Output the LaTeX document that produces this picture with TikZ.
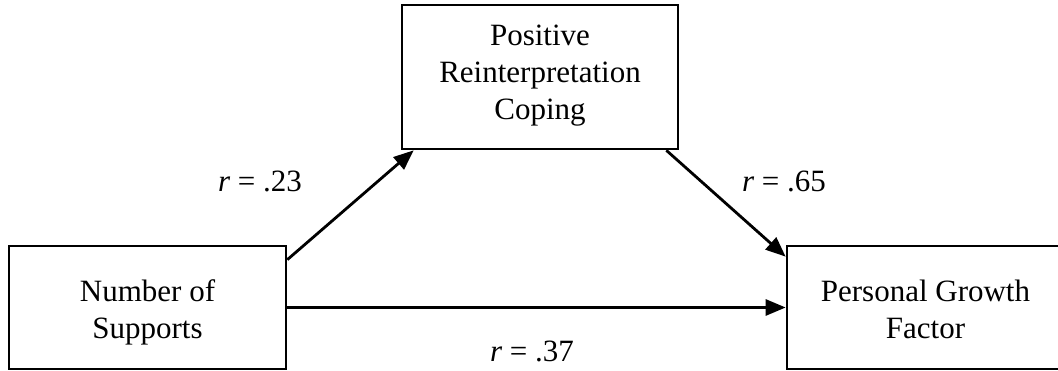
\documentclass[tikz,border=0pt]{standalone}
\usepackage{fontspec}
\setmainfont{Liberation Serif}
\usetikzlibrary{arrows.meta}
\begin{document}
\begin{tikzpicture}[x=1pt,y=-1pt,
  box/.style={draw=black, line width=2.7pt, inner sep=0pt},
  txt/.style={align=center, font=\fontsize{31}{37}\selectfont, inner sep=0pt},
  lbl/.style={font=\fontsize{31}{37}\selectfont, inner sep=0pt, anchor=base},
  arr/.style={line width=2.8pt, -{Triangle[length=20pt,width=16pt]}}]
\useasboundingbox (0,0) rectangle (1058,371);
% boxes
\node[box, minimum width=276pt, minimum height=144pt] (top) at (540,77) {};
\node[box, minimum width=277pt, minimum height=123pt] (left) at (147.5,307.5) {};
\node[box, minimum width=277pt, minimum height=123pt] (right) at (925.5,307.5) {};
% box texts
\node[txt] (toptxt) at (540,75.9) {Positive\\Reinterpretation\\Coping};
\node[txt] (lefttxt) at (147.5,312.8) {Number of\\Supports};
\node[txt] (righttxt) at (925.5,309.5) {Personal Growth\\Factor};
% connectors
\draw[arr] ([yshift=-15pt]left.north east) -- ([xshift=13pt]top.south west);
\draw[arr] ([xshift=-13pt]top.south east) -- ([yshift=-12pt]right.north west);
\draw[arr] (left.east) -- (right.west);
% labels
\node[lbl] (l1) at (260,192) {{\itshape r} = .23};
\node[lbl] (l2) at (784,192) {{\itshape r} = .65};
\node[lbl] (l3) at (532,362) {{\itshape r} = .37};
\end{tikzpicture}
\end{document}
